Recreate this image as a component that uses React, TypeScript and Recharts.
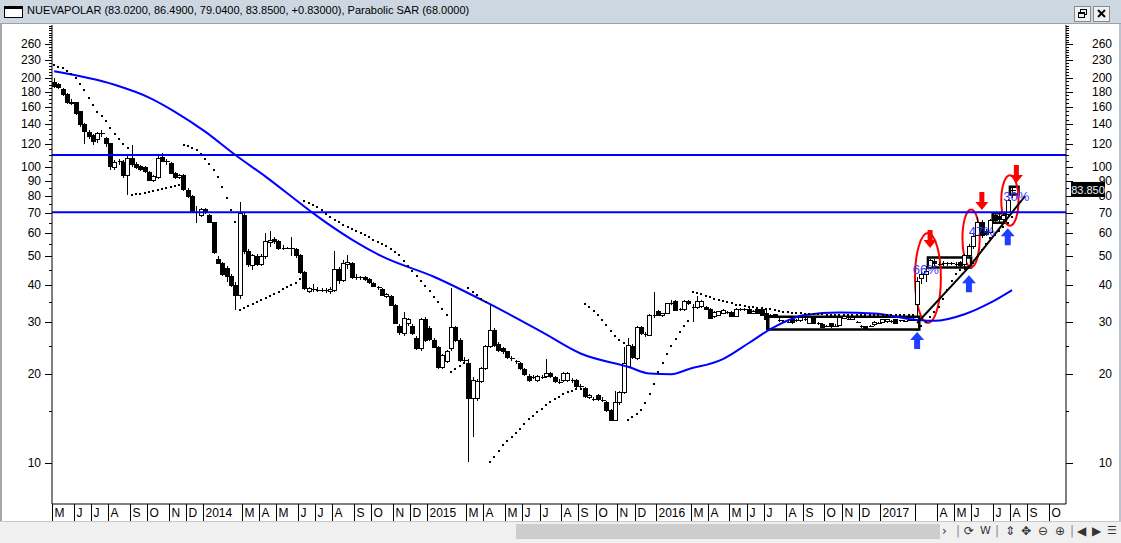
import React from 'react';
import { ComposedChart, Bar, Line, XAxis, YAxis, ReferenceLine, ReferenceArea, ReferenceDot } from 'recharts';

// weekly bars, first bar = week ending 3 May 2013, last = week ending 4 Aug 2017
const opens = [
  194, 190, 183, 176, 166, 165, 154, 139, 131, 128,
  124, 130, 125, 120, 100, 104, 104, 94, 107, 102,
  100.5, 100, 96, 90.5, 92.5, 108, 105, 103, 95.5, 92.7,
  94, 83.8, 79.7, 70.8, 69, 72, 68.5, 65, 49, 47.2,
  45.6, 42.7, 40, 37, 69, 52, 46.7, 50, 47, 50,
  55.6, 57, 56, 53.3, 53.5, 53.3, 52.6, 50.2, 44, 38,
  38.7, 38.5, 38.6, 38.4, 38, 38.3, 45, 41.5, 47, 47.2,
  42.3, 42.6, 42.4, 41.8, 40.6, 39.3, 38.6, 36.6, 36.7, 34.2,
  29, 27.5, 29.7, 29, 26.5, 24.5, 30.7, 28.5, 26.1, 24.6,
  21, 22.1, 24.5, 28.8, 26, 22.4, 21.8, 16.5, 16.6, 18.9,
  20.9, 24.8, 28.2, 25.3, 24.5, 23.8, 22.7, 22.1, 21.7, 20.8,
  19.7, 19.5, 19.1, 19.6, 19.6, 20.1, 19.5, 18.9, 19, 19.1,
  19.1, 19, 18.3, 17.9, 16.7, 16.5, 17, 16.4, 16, 15.1,
  14, 16, 17.3, 21.2, 24.8, 22.6, 28.8, 27, 27.1, 31.5,
  32.5, 31.5, 32.1, 34.7, 35.2, 33.1, 33, 35.2, 33.5, 33.7,
  33.8, 33.7, 33.2, 31.3, 31.7, 32.1, 32.4, 32.3, 31.3, 33.1,
  33.2, 33.2, 32.1, 33.2, 33, 32.1, 31.6, 31.8, 30.6, 30.3,
  30.1, 30.5, 30.3, 30.3, 30.8, 29.7, 31, 29.8, 29.5, 29.1,
  29.6, 29.2, 29.3, 30.9, 30.8, 30.6, 30, 29.1, 29, 29,
  29.4, 29.9, 30, 30.1, 30.2, 30.5, 30.3, 30.3, 30.4, 30.5,
  34.5, 42, 43.3, 46, 48, 47.3, 47, 47.2, 47.4, 47,
  47.6, 46.8, 50.2, 54, 59, 65, 60.5, 60, 68.5, 68,
  66.5, 69.5, 83.02,
];
const highs = [
  200, 193, 186, 178, 170, 166, 155, 141, 134, 130,
  132, 134, 127, 121, 106, 107, 106, 110, 119, 104,
  102, 101, 97, 94, 110, 112, 107, 104, 96.5, 95,
  95, 85, 80.5, 74, 73, 73, 69.5, 65.5, 50, 48,
  46.5, 43.5, 41, 76.6, 70, 53, 51, 51, 51, 60,
  61, 58, 57, 54.5, 54, 58, 53.5, 51, 44.5, 39.5,
  40.5, 39.5, 39, 39.2, 39.5, 52, 46, 48.5, 50.5, 48,
  43.5, 43, 42.8, 42.2, 41, 39.6, 39, 37.5, 37, 34.5,
  29.5, 32.5, 31, 29.5, 27, 31, 31.2, 29, 26.5, 25,
  23.5, 24.2, 39, 29.2, 26.5, 22.8, 22.5, 19.5, 19.2, 21.2,
  25.2, 34.6, 28.6, 25.8, 24.8, 24, 23, 22.4, 22, 21,
  20, 19.9, 19.9, 19.9, 22.5, 20.3, 19.7, 19.2, 20.4, 20.3,
  19.4, 19.2, 18.6, 18.1, 17.2, 16.8, 17.2, 16.7, 16.3, 15.3,
  17.6, 17.5, 24.8, 26.5, 25.3, 29.2, 29.2, 27.8, 32, 37.8,
  33, 32.3, 34.9, 35.5, 35.6, 33.5, 35.5, 35.6, 34.5, 36.8,
  35.5, 34.1, 33.5, 32.6, 32.8, 33.1, 32.7, 32.6, 33.4, 33.4,
  33.4, 33.4, 32.9, 33.3, 33.2, 33, 31.9, 32, 31, 30.6,
  30.4, 30.8, 30.8, 31.2, 31, 31.3, 31.2, 30, 29.7, 29.4,
  29.9, 29.5, 31.4, 31.5, 31, 31.4, 30.3, 29.4, 29.2, 29.3,
  30.2, 30.1, 30.8, 30.8, 30.5, 30.7, 30.6, 30.5, 30.7, 30.9,
  42.5, 44.5, 46.5, 49, 49, 48, 48.3, 48, 48, 47.8,
  48.2, 51, 55, 60, 68, 66.5, 62, 67, 70, 70,
  70, 78, 86.49,
];
const lows = [
  186, 184, 174, 164, 162, 150, 137, 120, 125, 119,
  121, 127, 117, 98, 98, 102, 92, 80.6, 100, 99,
  97, 96, 90, 89, 91, 104, 102, 95, 91.5, 91.5,
  83.5, 79, 70, 65, 68, 69.5, 65, 51, 47, 43,
  41, 39.5, 33, 36, 51, 46, 45, 46.5, 46.5, 49,
  54, 55, 52.5, 52.5, 52.8, 50, 49.5, 43.5, 38.5, 37.5,
  37.8, 37.9, 37.9, 37.6, 37.2, 38, 40.5, 41, 45.5, 41.8,
  41.5, 41.5, 41.3, 40.5, 39.4, 38.5, 36.8, 36.2, 34, 29.5,
  27.2, 27, 29.2, 27.2, 24.2, 24, 25.8, 25.9, 24.5, 20.8,
  20.8, 21.8, 24, 25.8, 22, 22, 10.1, 12.3, 16.3, 18.7,
  20.7, 24.5, 24.8, 23.8, 23.5, 22.5, 22.2, 21.6, 20.6, 19.7,
  18.9, 19.2, 18.9, 19.3, 19.4, 19.4, 18.7, 18.6, 18.8, 18.9,
  18.7, 18, 18, 16.6, 16.5, 16.2, 16.2, 16.1, 14.9, 13.9,
  13.9, 15.8, 17.1, 21, 22.5, 22.3, 27.2, 26.8, 26.9, 31,
  31.4, 31.2, 31.9, 34.2, 32.6, 32.6, 32.8, 34.3, 30.1, 33.3,
  33.5, 33, 30.7, 31, 31.4, 31.9, 32, 31.1, 31.1, 32.8,
  32.8, 31.9, 31.9, 31.9, 31.5, 28.2, 31, 31.2, 30.1, 29.8,
  29.7, 29.5, 30, 30.1, 30.3, 29.5, 29.5, 29.4, 28.6, 28.8,
  28.7, 28.9, 29.1, 30.7, 30.5, 30.4, 29.7, 28.7, 28.4, 28.8,
  29.2, 29.6, 29.8, 29.9, 29.7, 29.5, 30.1, 30, 30.2, 30.3,
  31, 40.5, 41, 45.5, 46.5, 46.5, 46.3, 46.5, 46.6, 46.2,
  46, 46.2, 49.5, 53, 58.5, 57.5, 58.5, 59.5, 65.5, 65,
  65, 67.5, 79.04,
];
const closes = [
  188, 186, 176, 166, 164, 152, 139, 132, 127, 122,
  130, 131, 120, 101, 104, 105, 94, 107, 102, 100,
  98.5, 97, 90.6, 93, 107, 105, 104, 95.5, 92.4, 94,
  84.3, 79.7, 70.8, 70, 72, 70.5, 65.3, 51.6, 47.5, 43.6,
  42.7, 40, 37, 70, 52, 47, 50.2, 47, 50, 56.3,
  56.8, 56, 53.3, 53.5, 53.3, 53, 50.3, 44.2, 39, 39,
  38.3, 38.6, 38.4, 38.5, 38.8, 45, 41.5, 47.5, 47.8, 42.3,
  42.6, 42.2, 41.9, 40.8, 39.7, 38.9, 37, 37.1, 34.2, 29.7,
  27.6, 30.8, 30.7, 27.5, 24.5, 30.7, 26.1, 26.2, 24.7, 21,
  23.1, 23.9, 28.8, 26.1, 22.3, 22.2, 16.5, 19.1, 18.9, 20.9,
  24.8, 28.2, 25.1, 24.1, 23.8, 22.8, 22.5, 21.9, 20.9, 19.9,
  19.1, 19.6, 19.6, 19.6, 20.1, 19.6, 18.9, 18.9, 20.1, 20.1,
  19, 18.2, 18.3, 16.8, 17, 16.4, 16.4, 16.4, 15.1, 14,
  16, 17.3, 21.7, 25.1, 22.8, 28.8, 27.5, 27.3, 31.7, 31.7,
  31.7, 32, 34.6, 34.9, 32.8, 33, 35.2, 34.6, 33.8, 35.2,
  35.2, 33.2, 30.9, 32.3, 32.5, 32.8, 32.3, 31.3, 33.2, 33.2,
  33.1, 32.1, 32.6, 32.1, 31.7, 30.5, 31.2, 31.4, 30.4, 30.1,
  30, 29.8, 30.5, 31, 30.6, 31.1, 29.7, 29.7, 28.8, 29,
  28.9, 29.2, 31.2, 31.3, 30.7, 31.2, 29.9, 28.9, 28.6, 29.1,
  30, 29.8, 30.6, 30.6, 29.9, 29.7, 30.4, 30.2, 30.5, 30.6,
  41, 43.5, 44.5, 48.5, 47.3, 47, 47.5, 47.4, 47, 47.3,
  46.6, 50.5, 54, 58.5, 65, 58.8, 59.3, 66, 66.2, 66.5,
  69, 77, 83.85,
];
// parabolic SAR, one per bar
const sar = [
  222, 219, 216, 212, 207, 200, 191, 182, 171, 162,
  154, 149, 143, 136, 130, 125, 120, 116, 80.6, 81,
  81.5, 82, 82.6, 83.2, 83.8, 84.4, 85, 85.7, 86.4, 87.1,
  119, 118, 116.5, 114, 111, 107, 103, 98, 92.5, 86,
  79, 72, 65.5, 33, 33.5, 34, 34.5, 35, 35.6, 36.2,
  36.8, 37.4, 38, 38.7, 39.3, 40, 40.8, 41.8, 77, 76,
  74.8, 73.2, 71.5, 69.5, 68, 66.5, 65.2, 64, 62.8, 61.8,
  60.8, 59.8, 58.9, 58, 57, 56, 55.2, 54.4, 53, 51.8,
  50.4, 48.3, 46.4, 44.5, 42.8, 41.2, 39.8, 38.2, 36.6, 35,
  33.3, 31.6, 20.4, 20.9, 21.4, 21.8, 39, 38, 37, 36,
  35.2, 10.1, 10.5, 11, 11.5, 11.9, 12.3, 12.7, 13.1, 13.6,
  14.1, 14.5, 14.9, 15.3, 15.7, 16.1, 16.5, 16.8, 17.1, 17.4,
  17.6, 17.8, 17.9, 34.6, 33.8, 32.8, 31.7, 30.5, 29.3, 28.1,
  27, 26.2, 25.6, 14, 14.3, 14.7, 15.2, 16, 17.1, 18.6,
  20.3, 21.9, 23.5, 25, 26.4, 27.8, 29, 30.3, 38, 37.6,
  37.2, 36.8, 36.4, 36, 35.6, 35.3, 35, 34.7, 34.4, 34.2,
  34, 33.8, 33.7, 33.6, 33.5, 33.3, 33.1, 32.9, 32.7, 32.5,
  32.4, 32.3, 32.2, 32.1, 32, 31.95, 31.9, 31.9, 31.85, 31.8,
  31.8, 31.8, 31.75, 31.75, 31.7, 31.7, 31.7, 31.7, 31.65, 31.65,
  31.65, 31.65, 31.6, 31.6, 31.6, 31.6, 31.6, 31.6, 31.6, 31.6,
  28.3, 29, 30, 31.2, 32.5, 33.8, 36, 38.5, 41.2, 43.6,
  45, 45.5, 45.9, 47.5, 50, 52.5, 55, 57.5, 59, 61,
  63, 65, 68,
];
// blue moving average, read at these bars
const maIdx = [0, 14, 22, 28, 35, 42, 49, 57, 60, 69, 76, 88, 100, 113, 122, 133, 138, 143, 147, 155, 161, 166, 174, 182, 190, 200, 204, 211, 217, 222];
const maVal = [211, 190, 172, 154, 132, 110, 93, 75.6, 70, 57, 50, 42.7, 35.1, 27.8, 23.5, 21.2, 20.1, 20, 20.8, 22.5, 25.5, 28.4, 31.7, 32.3, 32.1, 30.5, 30.3, 31.9, 34.9, 38.5];

const monthIdx = [0, 5, 9, 13, 18, 22, 27, 31, 35, 44, 48, 52, 57, 61, 65, 70, 74, 79, 83, 87, 96, 100, 105, 109, 113, 118, 122, 126, 131, 135, 140, 148, 152, 157, 161, 165, 170, 174, 179, 183, 187, 192, 200, 205, 209, 213, 218, 222, 226, 231];
const monthLbl = ['M', 'J', 'J', 'A', 'S', 'O', 'N', 'D', '2014', 'M', 'A', 'M', 'J', 'J', 'A', 'S', 'O', 'N', 'D', '2015', 'M', 'A', 'M', 'J', 'J', 'A', 'S', 'O', 'N', 'D', '2016', 'M', 'A', 'M', 'J', 'J', 'A', 'S', 'O', 'N', 'D', '2017', '', 'A', 'M', 'J', 'J', 'A', 'S', 'O'];

const yMajor = [10, 20, 30, 40, 50, 60, 70, 80, 90, 100, 120, 140, 160, 180, 200, 230, 260];
const yMinor = [15, 25, 35, 45, 55, 65, 75, 85, 95, 105, 110, 115, 125, 130, 135, 145, 150, 155, 165, 170, 175, 185, 190, 195, 205, 210, 215, 220, 225, 235, 240, 245, 250, 255, 265, 270, 275, 280, 285, 290, 295, 300];
const levels = [110, 70.5];
const lastPrice = 83.85;

// annotations (bar index / price)
const boxes = [
  { x1: 166, x2: 200, y1: 28.3, y2: 31.3 },
  { x1: 203, x2: 212, y1: 45.9, y2: 49.6 },
  { x1: 218, x2: 220, y1: 65, y2: 70 },
  { x1: 222, x2: 223, y1: 81, y2: 86 },
];
const rings = [
  { x1: 200, x2: 205, y1: 29.8, y2: 60 },
  { x1: 211, x2: 214, y1: 46, y2: 72 },
  { x1: 220, x2: 223, y1: 63.5, y2: 94 },
];
const trend = [
  [{ x: 200, y: 29.8 }, { x: 212, y: 46 }],
  [{ x: 212, y: 46 }, { x: 225, y: 80 }],
];
const sellMarks = [{ x: 203, y: 53.4 }, { x: 215, y: 71.7 }, { x: 223, y: 88.6 }];
const buyMarks = [{ x: 200, y: 27.8 }, { x: 212, y: 43.2 }, { x: 221, y: 62.2 }];
const gains = [{ x: 202, y: 45, t: '66%' }, { x: 215, y: 60.6, t: '47%' }, { x: 223, y: 79.4, t: '30%' }];

const W = 1121;
const H = 543;
const SLOTS = 235;
const AX_L = 52;
const AX_R = 1066;
const BW = (AX_R - AX_L) / SLOTS;
const FONT = '"Liberation Sans", Arial, sans-serif';

const data = Array.from({ length: SLOTS }, (_, i) => {
  const row: any = { i };
  if (i < closes.length) {
    row.o = opens[i];
    row.h = highs[i];
    row.l = lows[i];
    row.c = closes[i];
    row.range = [lows[i], highs[i]];
    row.sar = sar[i];
  }
  const k = maIdx.indexOf(i);
  if (k >= 0) row.ma = maVal[k];
  return row;
});

const Candle = (props: any) => {
  const { x, y, width, height, payload } = props;
  if (!payload || payload.c == null || !isFinite(y) || !isFinite(height)) return <g />;
  const top = Math.min(y, y + height);
  const bot = Math.max(y, y + height);
  const c = Math.round(x + width / 2) + 0.5;
  const lh = Math.log(payload.h);
  const ll = Math.log(payload.l);
  const py = (v: number) => (lh === ll ? top : top + ((lh - Math.log(v)) / (lh - ll)) * (bot - top));
  const bt = py(Math.max(payload.o, payload.c));
  const bb = py(Math.min(payload.o, payload.c));
  const up = payload.c >= payload.o;
  return (
    <g shapeRendering="crispEdges">
      <line x1={c} x2={c} y1={top} y2={bot} stroke="#000" strokeWidth={1} />
      {bb - bt < 1.5 ? (
        <line x1={c - 2} x2={c + 3} y1={Math.round(bt) + 0.5} y2={Math.round(bt) + 0.5} stroke="#000" />
      ) : (
        <rect x={c - 2} y={bt} width={4} height={bb - bt} fill={up ? '#fff' : '#000'} stroke="#000" strokeWidth={1} />
      )}
    </g>
  );
};

const sarDot = (p: any) => {
  const { cx, cy, index, payload } = p;
  if (!payload || payload.sar == null || cy == null || !isFinite(cy)) return <g key={`s${index}`} />;
  return <rect key={`s${index}`} x={Math.round(cx) - 1} y={Math.round(cy) - 1} width={2} height={2} fill="#000" />;
};

const MonthTick = (p: any) => {
  const { x, payload } = p;
  const k = monthIdx.indexOf(payload.value);
  const sx = Math.round(x - BW / 2) + 0.5;
  return (
    <g>
      <line x1={sx} x2={sx} y1={504} y2={521} stroke="#000" />
      <text x={sx + 2} y={517} fontSize={12} fontFamily={FONT} fill="#000">{k >= 0 ? monthLbl[k] : ''}</text>
    </g>
  );
};

const LeftTick = (p: any) => {
  const { y, payload } = p;
  const v = payload.value;
  const major = yMajor.includes(v);
  const yy = Math.round(y) + 0.5;
  return (
    <g>
      <line x1={AX_L - (major ? 7 : 3)} x2={AX_L} y1={yy} y2={yy} stroke="#000" />
      {major && (
        <text x={41} y={y + 4} textAnchor="end" fontSize={12} fontFamily={FONT} fill="#000">{v}</text>
      )}
    </g>
  );
};

const RightTick = (p: any) => {
  const { y, payload } = p;
  const v = payload.value;
  if (v === lastPrice) {
    return (
      <g>
        <rect x={1071} y={y - 8} width={34} height={15} fill="#000" />
        <text x={1088} y={y + 4} textAnchor="middle" fontSize={11} fontFamily={FONT} fill="#e8f0ff">{lastPrice.toFixed(3)}</text>
      </g>
    );
  }
  const major = yMajor.includes(v);
  const yy = Math.round(y) + 0.5;
  return (
    <g>
      <line x1={AX_R} x2={AX_R + (major ? 7 : 3)} y1={yy} y2={yy} stroke="#000" />
      {major && (
        <text x={1112} y={y + 4} textAnchor="end" fontSize={12} fontFamily={FONT} fill="#000">{v}</text>
      )}
    </g>
  );
};

const Ring = (p: any) => (
  <ellipse cx={p.x + p.width / 2} cy={p.y + p.height / 2} rx={Math.abs(p.width) / 2} ry={Math.abs(p.height) / 2} fill="none" stroke="#ff0000" strokeWidth={2} />
);

const DownArrow = (p: any) => {
  const { cx, cy } = p;
  const pts = [[-2.5, -18], [2.5, -18], [2.5, -8], [6.5, -8], [0, 0], [-6.5, -8], [-2.5, -8]];
  return <polygon points={pts.map(([a, b]) => `${cx + a},${cy + b}`).join(' ')} fill="#ff0000" />;
};

const UpArrow = (p: any) => {
  const { cx, cy } = p;
  const pts = [[-3, 17], [3, 17], [3, 8], [7, 8], [0, 0], [-7, 8], [-3, 8]];
  return <polygon points={pts.map(([a, b]) => `${cx + a},${cy + b}`).join(' ')} fill="#1f3fff" />;
};

const gainText = (t: string) => (p: any) => (
  <text x={p.cx} y={p.cy + 4} textAnchor="middle" fontSize={13} fontFamily={FONT} fill="#3a3aff">{t}</text>
);

const btn: React.CSSProperties = {
  position: 'absolute', top: 6, width: 17, height: 16, background: '#f0f0f0',
  border: '1px solid #8a8a8a', boxSizing: 'border-box',
};

export default function App() {
  const yTicks = [...yMajor, ...yMinor];
  return (
    <div style={{ position: 'absolute', left: 0, top: 0, width: W, height: H, background: '#fff', overflow: 'hidden', fontFamily: FONT }}>
      <div style={{ position: 'absolute', left: 0, top: 0 }}>
        <ComposedChart width={W} height={H} data={data} margin={{ top: 25, right: 0, bottom: 22, left: 0 }}>
          <XAxis dataKey="i" type="category" ticks={monthIdx} interval={0} tick={MonthTick} tickLine={false} axisLine={{ stroke: '#000' }} height={17} />
          <YAxis yAxisId="left" orientation="left" scale="log" domain={[7.29, 302.5]} allowDataOverflow ticks={yTicks} interval={0} tick={LeftTick} tickLine={false} axisLine={{ stroke: '#000' }} width={52} />
          <YAxis yAxisId="right" orientation="right" scale="log" domain={[7.29, 302.5]} allowDataOverflow ticks={[...yTicks, lastPrice]} interval={0} tick={RightTick} tickLine={false} axisLine={{ stroke: '#000' }} width={55} />
          <Bar yAxisId="left" dataKey="range" barSize={4} shape={(p: any) => <Candle {...p} />} isAnimationActive={false} />
          <Line yAxisId="left" dataKey="sar" stroke="none" dot={sarDot} activeDot={false} isAnimationActive={false} />
          <Line yAxisId="left" dataKey="ma" type="monotone" stroke="#0000ff" strokeWidth={2} dot={false} activeDot={false} connectNulls isAnimationActive={false} />
          {levels.map((v) => (
            <ReferenceLine key={`lv${v}`} yAxisId="left" y={v} stroke="#0000ff" strokeWidth={2} />
          ))}
          {boxes.map((b, k) => (
            <ReferenceArea key={`bx${k}`} yAxisId="left" x1={b.x1} x2={b.x2} y1={b.y1} y2={b.y2} fill="none" stroke="#000" strokeWidth={2.5} fillOpacity={0} />
          ))}
          {trend.map((s, k) => (
            <ReferenceLine key={`tr${k}`} yAxisId="left" segment={s} stroke="#000" strokeWidth={2} />
          ))}
          {rings.map((r, k) => (
            <ReferenceArea key={`rg${k}`} yAxisId="left" x1={r.x1} x2={r.x2} y1={r.y1} y2={r.y2} shape={Ring} />
          ))}
          {sellMarks.map((m, k) => (
            <ReferenceDot key={`sm${k}`} yAxisId="left" x={m.x} y={m.y} r={0} shape={DownArrow} />
          ))}
          {buyMarks.map((m, k) => (
            <ReferenceDot key={`bm${k}`} yAxisId="left" x={m.x} y={m.y} r={0} shape={UpArrow} />
          ))}
          {gains.map((g, k) => (
            <ReferenceDot key={`gn${k}`} yAxisId="left" x={g.x} y={g.y} r={0} shape={gainText(g.t)} />
          ))}
        </ComposedChart>
      </div>

      {/* window title bar */}
      <div style={{ position: 'absolute', left: 0, top: 0, width: W, height: 23, background: '#cdd7e2', borderBottom: '1px solid #9aa3ad' }}>
        <div style={{ position: 'absolute', left: 4, top: 6, width: 19, height: 12, background: '#fff', border: '1px solid #000', borderTop: '3px solid #000', boxSizing: 'border-box' }} />
        <div style={{ position: 'absolute', left: 27, top: 4, fontSize: 11, color: '#000', whiteSpace: 'nowrap' }}>
          NUEVAPOLAR (83.0200, 86.4900, 79.0400, 83.8500, +0.83000), Parabolic SAR (68.0000)
        </div>
        <div style={{ ...btn, left: 1074 }}>
          <svg width={15} height={14}>
            <rect x={5.5} y={2.5} width={6} height={5} fill="none" stroke="#000" />
            <rect x={3.5} y={5.5} width={6} height={5} fill="#f0f0f0" stroke="#000" />
            <line x1={3} x2={10} y1={6} y2={6} stroke="#000" strokeWidth={2} />
          </svg>
        </div>
        <div style={{ ...btn, left: 1093 }}>
          <svg width={15} height={14}>
            <line x1={4} y1={3} x2={11} y2={10} stroke="#000" strokeWidth={2} />
            <line x1={11} y1={3} x2={4} y2={10} stroke="#000" strokeWidth={2} />
          </svg>
        </div>
      </div>

      {/* window side borders */}
      <div style={{ position: 'absolute', left: 0, top: 24, width: 2, height: 497, background: '#a8a8a8' }} />
      <div style={{ position: 'absolute', left: 1119, top: 24, width: 2, height: 497, background: '#b8c4d0' }} />

      {/* scroll / toolbar strip */}
      <div style={{ position: 'absolute', left: 0, top: 521, width: W, height: 22, background: '#f0f0f0', borderTop: '1px solid #c8c8c8' }}>
        <div style={{ position: 'absolute', left: 516, top: 2, width: 424, height: 15, background: '#cdcdcd' }} />
        <div style={{ position: 'absolute', left: 940, top: 2, fontSize: 12, fontFamily: '"DejaVu Sans", sans-serif', color: '#333', whiteSpace: 'nowrap' }}>
          <span style={{ position: 'absolute', left: 2 }}>›</span>
          <span style={{ position: 'absolute', left: 16, color: '#888' }}>|</span>
          <span style={{ position: 'absolute', left: 24 }}>⟳</span>
          <span style={{ position: 'absolute', left: 40, fontSize: 11 }}>W</span>
          <span style={{ position: 'absolute', left: 55, color: '#888' }}>|</span>
          <span style={{ position: 'absolute', left: 65 }}>⇕</span>
          <span style={{ position: 'absolute', left: 81 }}>✥</span>
          <span style={{ position: 'absolute', left: 98 }}>⊖</span>
          <span style={{ position: 'absolute', left: 115 }}>⊕</span>
          <span style={{ position: 'absolute', left: 130, color: '#888' }}>|</span>
          <span style={{ position: 'absolute', left: 137 }}>◀</span>
          <span style={{ position: 'absolute', left: 152 }}>▶</span>
          <span style={{ position: 'absolute', left: 167, fontSize: 11 }}>☰</span>
        </div>
      </div>
    </div>
  );
}
